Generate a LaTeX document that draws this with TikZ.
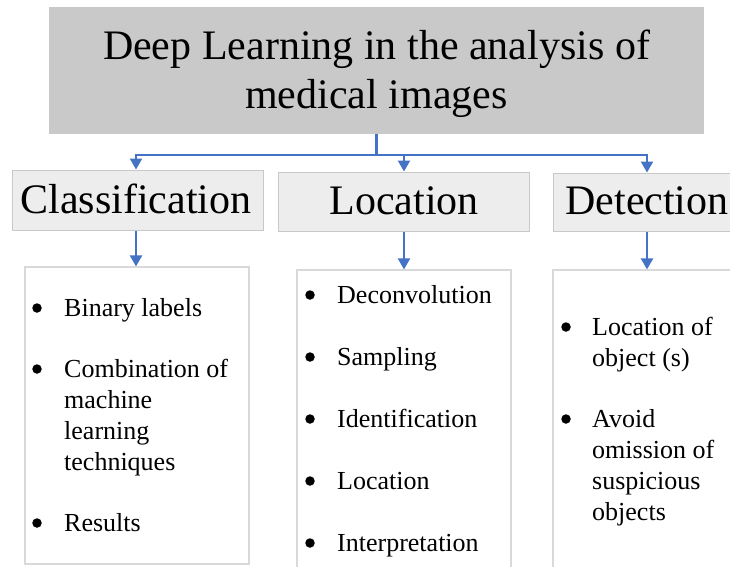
\documentclass[tikz,border=0pt]{standalone}
\usepackage{fontspec}
\setmainfont{Liberation Serif}
\usetikzlibrary{arrows.meta}
\definecolor{conncol}{HTML}{4472C4}
\definecolor{topfill}{HTML}{C9C9C9}
\definecolor{hdrfill}{HTML}{EDEDED}
\definecolor{hdrline}{HTML}{C8C8C8}
\definecolor{boxline}{HTML}{D9D9D9}
\begin{document}
\begin{tikzpicture}[x=1pt,y=-1pt,
  topbox/.style={rectangle, fill=topfill, draw=none, inner sep=0pt},
  hdrbox/.style={rectangle, fill=hdrfill, draw=hdrline, line width=1pt, inner sep=0pt, minimum width=251pt},
  listbox/.style={rectangle, fill=white, draw=boxline, line width=1.2pt, inner sep=0pt},
  big/.style={font=\fontsize{42}{49}\selectfont, anchor=base, inner sep=0pt},
  item/.style={font=\fontsize{26}{31}\selectfont, anchor=base west, inner sep=0pt},
  bul/.style={circle, fill=black, inner sep=0pt, minimum size=9.5pt},
  conn/.style={draw=conncol, line width=2.2pt},
  arr/.style={conn, -{Triangle[width=12pt,length=11pt]}}
]
\clip (0,0) rectangle (730,566);
\fill[white] (0,0) rectangle (730,566);

% title
\node[topbox, minimum width=655pt, minimum height=127pt] (top) at (376.5,70.5) {};
\node[big] (t1) at (376.5,59) {Deep Learning in the analysis of};
\node[big] (t2) at (376.5,108) {medical images};

% headers
\node[hdrbox, minimum height=60pt] (cls) at (137.5,200) {};
\node[hdrbox, minimum height=59pt] (loc) at (403.5,201.5) {};
\node[hdrbox, minimum height=58pt] (det) at (678.5,202) {};
\node[big] (clsT) at (136,213) {Classification};
\node[big] (locT) at (404,214) {Location};
\node[big] (detT) at (647,214) {Detection};

% list boxes
\node[listbox, minimum width=224pt, minimum height=297pt] (lb1) at (137,415.5) {};
\node[listbox, minimum width=214pt, minimum height=320pt] (lb2) at (404,430) {};
\node[listbox, minimum width=251pt, minimum height=320pt] (lb3) at (678.5,430) {};

% connectors
\coordinate (jc) at (376.5,155);
\coordinate (jl) at (136,155);
\coordinate (jm) at (404,155);
\coordinate (jr) at (647,155);
\draw[conn] (top.south) -- (jc);
\draw[conn, line cap=rect] (jl) -- (jr);
\draw[arr] (jl) -- (jl |- cls.north);
\draw[arr] (jm) -- (jm |- loc.north);
\draw[arr] (jr) -- (jr |- det.north);
\draw[arr] (clsT.south |- cls.south) -- (clsT.south |- lb1.north);
\draw[arr] (locT.south |- loc.south) -- (locT.south |- lb2.north);
\draw[arr] (detT.south |- det.south) -- (detT.south |- lb3.north);

% left list
\node[bul] (b11) at (37,308) {};
\node[item] (i11) at (64,316) {Binary labels};
\node[bul] (b12) at (37,369) {};
\node[item] (i12a) at (64,377) {Combination of};
\node[item] (i12b) at (64,408) {machine};
\node[item] (i12c) at (64,439) {learning};
\node[item] (i12d) at (64,470) {techniques};
\node[bul] (b13) at (37,523) {};
\node[item] (i13) at (64,531) {Results};

% middle list
\node[bul] (b21) at (310,295) {};
\node[item] (i21) at (337,303) {Deconvolution};
\node[bul] (b22) at (310,357) {};
\node[item] (i22) at (337,365) {Sampling};
\node[bul] (b23) at (310,419) {};
\node[item] (i23) at (337,427) {Identification};
\node[bul] (b24) at (310,481) {};
\node[item] (i24) at (337,489) {Location};
\node[bul] (b25) at (310,543) {};
\node[item] (i25) at (337,551) {Interpretation};

% right list
\node[bul] (b31) at (566,327) {};
\node[item] (i31a) at (592,335) {Location of};
\node[item] (i31b) at (592,366) {object (s)};
\node[bul] (b32) at (566,419) {};
\node[item] (i32a) at (592,427) {Avoid};
\node[item] (i32b) at (592,458) {omission of};
\node[item] (i32c) at (592,489) {suspicious};
\node[item] (i32d) at (592,520) {objects};
\end{tikzpicture}
\end{document}
